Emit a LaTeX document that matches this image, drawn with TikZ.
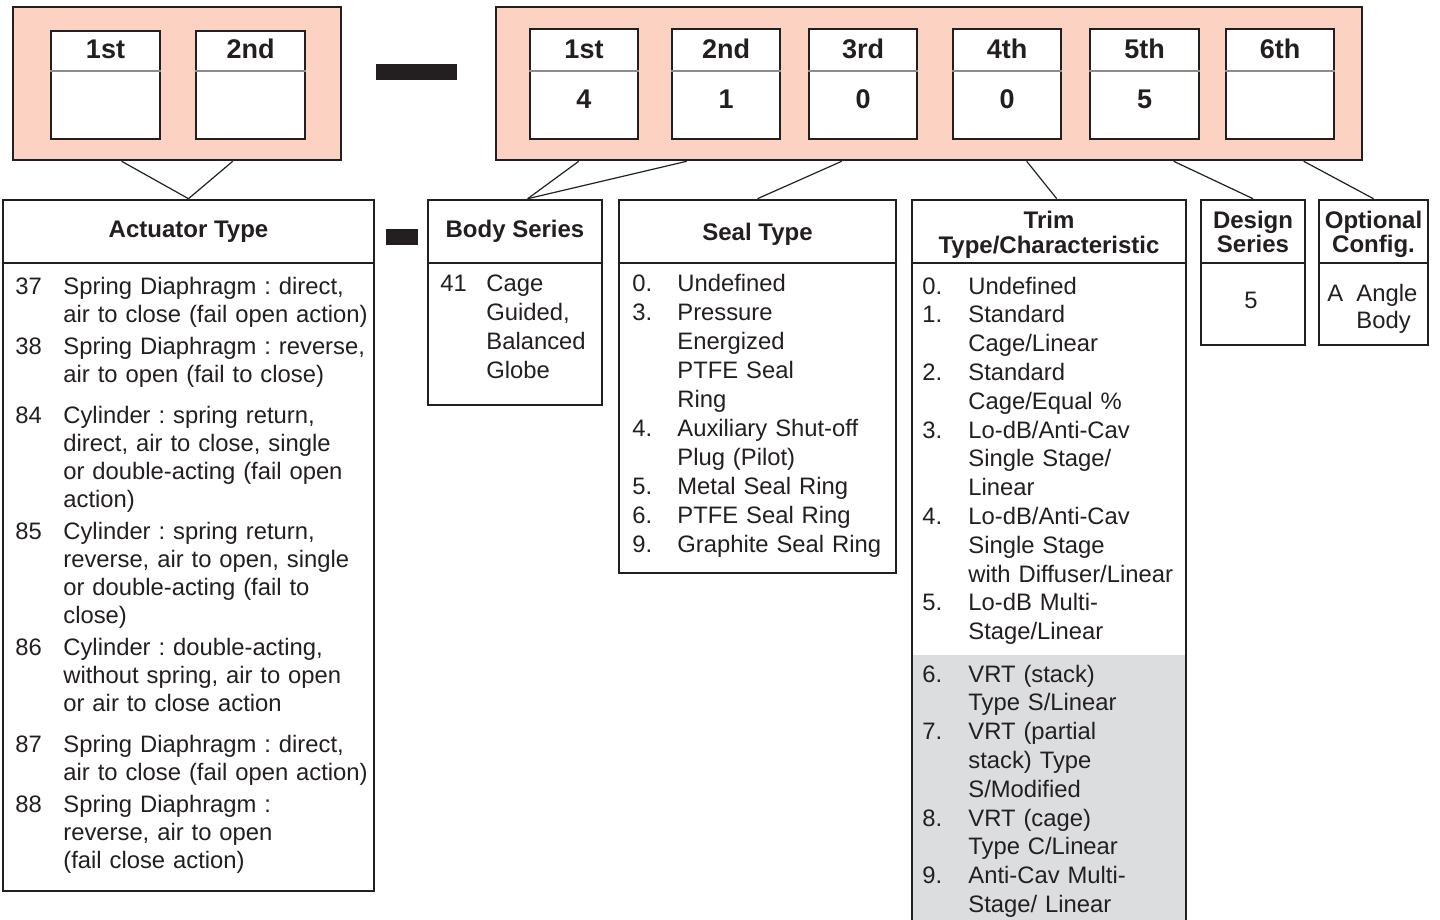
\documentclass[tikz,border=0pt]{standalone}
\usepackage{fontspec}
\setmainfont{Liberation Sans}
\usetikzlibrary{fit,calc}
\definecolor{pinkfill}{HTML}{FCD3C2}
\definecolor{ink}{HTML}{231F20}
\definecolor{graybg}{HTML}{DCDDDF}
\definecolor{divgray}{HTML}{8C8C8C}
\frenchspacing
\begin{document}
\frenchspacing
\begin{tikzpicture}[x=0.5pt,y=-0.5pt,
  box/.style={draw=ink, line width=1.3pt, inner sep=0pt, fill=white},
  openbox/.style={draw=ink, line width=1.3pt, inner sep=0pt},
  pinkbox/.style={draw=ink, line width=1.3pt, inner sep=0pt, fill=pinkfill},
  divline/.style={draw=ink, line width=1.1pt},
  graydiv/.style={draw=divgray, line width=1.1pt},
  conn/.style={draw=ink, line width=0.6pt},
  digit/.style={font=\fontsize{13.5}{15}\selectfont\bfseries, text=ink, inner sep=0pt, anchor=base},
  head/.style={font=\fontsize{12}{13}\selectfont\bfseries, text=ink, inner sep=0pt, anchor=base},
  num/.style={font=\fontsize{11.9}{14}\selectfont\frenchspacing, text=ink, inner sep=0pt, anchor=base west},
  item/.style={font=\fontsize{11.9}{#1}\selectfont\frenchspacing, text=ink, inner sep=0pt, anchor=base west, align=left, text width=160pt},
]
\useasboundingbox (0,0) rectangle (1440,920);
\fill[white] (0,0) rectangle (1440,920);

% ---- top code boxes ----
\node[pinkbox, fit={(13,7) (341,160)}] (lt) {};
\node[box, fit={(51,31) (160,139)}] (l1) {};
\node[box, fit={(196,31) (305,139)}] (l2) {};
\foreach \b in {l1,l2}{
  \draw[graydiv] ($(\b.north west)+(0,41)$) -- ($(\b.north east)+(0,41)$);
}
\node[digit] (l1t) at ($(l1.north)+(0,28.5)$) {1st};
\node[digit] (l2t) at ($(l2.north)+(0,28.5)$) {2nd};

\fill[ink] (376,64) rectangle (457,80);

\node[pinkbox, fit={(496,7) (1362,160)}] (rt) {};
\node[box, fit={(530,29) (638,139)}] (r1) {};
\node[box, fit={(672,29) (780,139)}] (r2) {};
\node[box, fit={(809,29) (917,139)}] (r3) {};
\node[box, fit={(953,29) (1061,139)}] (r4) {};
\node[box, fit={(1090,29) (1199,139)}] (r5) {};
\node[box, fit={(1226,29) (1334,139)}] (r6) {};
\foreach \b in {r1,r2,r3,r4,r5,r6}{
  \draw[graydiv] ($(\b.north west)+(0,43)$) -- ($(\b.north east)+(0,43)$);
}
\node[digit] (r1t) at ($(r1.north)+(0,30.5)$) {1st};
\node[digit] (r2t) at ($(r2.north)+(0,30.5)$) {2nd};
\node[digit] (r3t) at ($(r3.north)+(0,30.5)$) {3rd};
\node[digit] (r4t) at ($(r4.north)+(0,30.5)$) {4th};
\node[digit] (r5t) at ($(r5.north)+(0,30.5)$) {5th};
\node[digit] (r6t) at ($(r6.north)+(0,30.5)$) {6th};
\node[digit] (r1v) at ($(r1.north)+(0,80.5)$) {4};
\node[digit] (r2v) at ($(r2.north)+(0,80.5)$) {1};
\node[digit] (r3v) at ($(r3.north)+(0,80.5)$) {0};
\node[digit] (r4v) at ($(r4.north)+(0,80.5)$) {0};
\node[digit] (r5v) at ($(r5.north)+(0,80.5)$) {5};

% ---- lower boxes ----
\fill[graybg] (912,655) rectangle (1186,930);
\node[openbox, fit={(3,200) (374,891)}] (act) {};
\node[openbox, fit={(428,200) (602,405)}] (body) {};
\node[openbox, fit={(619,200) (896,573)}] (seal) {};
\node[openbox, fit={(912,200) (1186,930)}] (trim) {};
\node[openbox, fit={(1201,200) (1305,345)}] (design) {};
\node[openbox, fit={(1319,200) (1428,345)}] (opt) {};
\foreach \b in {act,body,seal,trim,design,opt}{
  \draw[divline] ($(\b.north west)+(0,64.5)$) -- ($(\b.north east)+(0,64.5)$);
}
\fill[ink] (386,229) rectangle (418,245);

% connectors
\draw[conn] ($(lt.south west)+(110,0)$) -- (act.north);
\draw[conn] ($(lt.south west)+(221,0)$) -- (act.north);
\draw[conn] ($(rt.south west)+(84,0)$) -- ($(body.north west)+(101,0)$);
\draw[conn] ($(rt.south west)+(192,0)$) -- ($(body.north west)+(101,0)$);
\draw[conn] ($(rt.south west)+(347,0)$) -- (seal.north);
\draw[conn] ($(rt.south west)+(532,0)$) -- ($(trim.north west)+(146,0)$);
\draw[conn] ($(rt.south west)+(679,0)$) -- (design.north);
\draw[conn] ($(rt.south west)+(809,0)$) -- (opt.north);

% headers
\node[head] (acth) at (188.5,237) {Actuator Type};
\node[head] (bodyh) at (515,237) {Body Series};
\node[head] (sealh) at (757.5,240) {Seal Type};
\node[head] (trimh1) at (1049,228) {Trim};
\node[head] (trimh2) at (1049,253) {Type/Characteristic};
\node[head] (desh1) at (1253,228) {Design};
\node[head] (desh2) at (1253,252) {Series};
\node[head] (opth1) at (1373.5,228) {Optional};
\node[head] (opth2) at (1373.5,252) {Config.};

% actuator items
\node[num] (a37) at (15,294) {37};
\node[item=14] (a37t) at (63,294) {Spring Diaphragm : direct,\\air to close (fail open action)};
\node[num] (a38) at (15,354) {38};
\node[item=14] (a38t) at (63,354) {Spring Diaphragm : reverse,\\air to open (fail to close)};
\node[num] (a84) at (15,423) {84};
\node[item=14] (a84t) at (63,423) {Cylinder : spring return,\\direct, air to close, single\\or double-acting (fail open\\action)};
\node[num] (a85) at (15,539) {85};
\node[item=14] (a85t) at (63,539) {Cylinder : spring return,\\reverse, air to open, single\\or double-acting (fail to\\close)};
\node[num] (a86) at (15,655) {86};
\node[item=14] (a86t) at (63,655) {Cylinder : double-acting,\\without spring, air to open\\or air to close action};
\node[num] (a87) at (15,752) {87};
\node[item=14] (a87t) at (63,752) {Spring Diaphragm : direct,\\air to close (fail open action)};
\node[num] (a88) at (15,812) {88};
\node[item=14] (a88t) at (63,812) {Spring Diaphragm :\\reverse, air to open\\(fail close action)};

% body series
\node[num] (b41) at (440,291) {41};
\node[item=14.5] (b41t) at (486,291) {Cage\\Guided,\\Balanced\\Globe};

% seal type
\node[num] (s0) at (632,291) {0.};
\node[item=14.5] (s0t) at (677,291) {Undefined};
\node[num] (s3) at (632,320) {3.};
\node[item=14.5] (s3t) at (677,320) {Pressure\\Energized\\PTFE Seal\\Ring};
\node[num] (s4) at (632,436) {4.};
\node[item=14.5] (s4t) at (677,436) {Auxiliary Shut-off\\Plug (Pilot)};
\node[num] (s5) at (632,494) {5.};
\node[item=14.5] (s5t) at (677,494) {Metal Seal Ring};
\node[num] (s6) at (632,523) {6.};
\node[item=14.5] (s6t) at (677,523) {PTFE Seal Ring};
\node[num] (s9) at (632,552) {9.};
\node[item=14.5] (s9t) at (677,552) {Graphite Seal Ring};

% trim
\node[num] (t0) at (922,294) {0.};
\node[item=14.4] (t0t) at (968,294) {Undefined};
\node[num] (t1) at (922,322.8) {1.};
\node[item=14.4] (t1t) at (968,322.8) {Standard\\Cage/Linear};
\node[num] (t2) at (922,380.4) {2.};
\node[item=14.4] (t2t) at (968,380.4) {Standard\\Cage/Equal \%};
\node[num] (t3) at (922,438) {3.};
\node[item=14.4] (t3t) at (968,438) {Lo-dB/Anti-Cav\\Single Stage/\\Linear};
\node[num] (t4) at (922,524.4) {4.};
\node[item=14.4] (t4t) at (968,524.4) {Lo-dB/Anti-Cav\\Single Stage\\with Diffuser/Linear};
\node[num] (t5) at (922,610.8) {5.};
\node[item=14.4] (t5t) at (968,610.8) {Lo-dB Multi-\\Stage/Linear};
\node[num] (t6) at (922,682) {6.};
\node[item=14.4] (t6t) at (968,682) {VRT (stack)\\Type S/Linear};
\node[num] (t7) at (922,739.6) {7.};
\node[item=14.4] (t7t) at (968,739.6) {VRT (partial\\stack) Type\\S/Modified};
\node[num] (t8) at (922,826) {8.};
\node[item=14.4] (t8t) at (968,826) {VRT (cage)\\Type C/Linear};
\node[num] (t9) at (922,883.6) {9.};
\node[item=14.4] (t9t) at (968,883.6) {Anti-Cav Multi-\\Stage/ Linear};

% design / optional
\node[num, anchor=base] (d5) at (1251,308) {5};
\node[num] (oA) at (1327,301) {A};
\node[item=13.5] (oAt) at (1356,301) {Angle\\Body};
\end{tikzpicture}
\end{document}
